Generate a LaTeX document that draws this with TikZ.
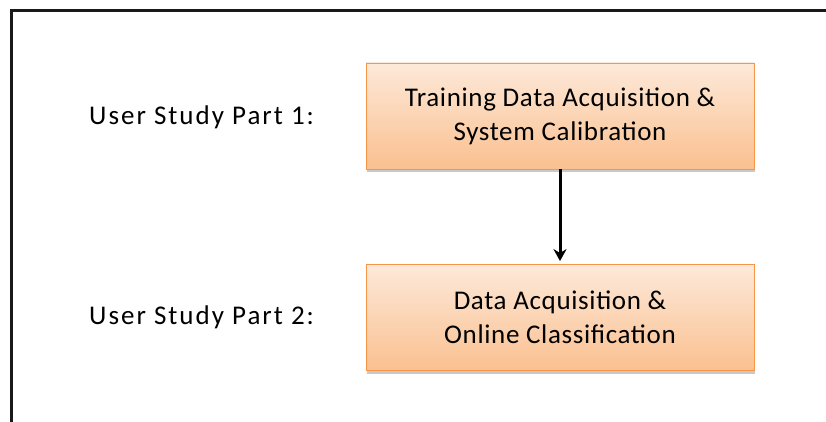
\documentclass[tikz,border=0pt]{standalone}
\usepackage{fontspec}
\setmainfont{Carlito}
\usetikzlibrary{shadows,arrows.meta}
\definecolor{boxtop}{HTML}{FDE9D9}
\definecolor{boxbot}{HTML}{FAC090}
\definecolor{boxline}{HTML}{F79646}
\tikzset{
  stagebox/.style={draw=boxline, line width=0.8pt, top color=boxtop, bottom color=boxbot,
    minimum width=388pt, minimum height=106pt, align=center, inner sep=0pt,
    font=\fontsize{27}{34}\selectfont\addfontfeatures{LetterSpace=2.4},
    drop shadow={shadow xshift=1pt, shadow yshift=-3pt, opacity=0.35, fill=black!60}},
  partlabel/.style={anchor=base west, inner sep=0pt,
    font=\fontsize{27}{30}\selectfont\addfontfeatures{LetterSpace=7.4}},
  flowarrow/.style={line width=3pt, shorten >=3pt, -{Stealth[length=12pt, width=13pt]}}
}
\begin{document}
\begin{tikzpicture}[x=1pt, y=-1pt]
\useasboundingbox (0,0) rectangle (826,422);
\fill[white] (0,0) rectangle (826,422);
\coordinate (fa) at (11.5,423);
\coordinate (fb) at (11.5,10.5);
\coordinate (fc) at (827,10.5);
\draw[line width=3pt, black!90] (fa) -- (fb) -- (fc);
\node[stagebox] (b1) at (560,116) {Training Data Acquisition \&\\System Calibration};
\node[stagebox] (b2) at (560,317.5) {Data Acquisition \&\\Online Classification};
\node[partlabel] (l1) at (89,124.3) {User Study Part 1:};
\node[partlabel] (l2) at (89,324.3) {User Study Part 2:};
\draw[flowarrow] (b1.south) -- (b2.north);
\end{tikzpicture}
\end{document}
